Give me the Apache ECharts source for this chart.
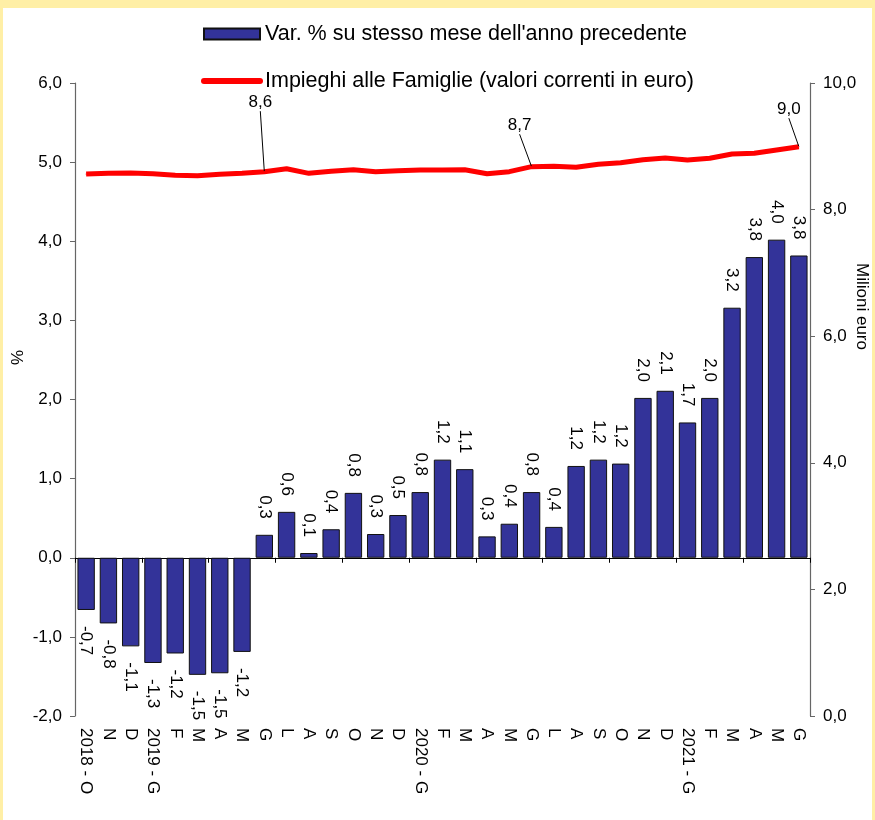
<!DOCTYPE html>
<html>
<head>
<meta charset="utf-8">
<script src="https://cdn.jsdelivr.net/npm/echarts@6/dist/echarts.min.js"></script>
<style>
html,body{margin:0;padding:0;background:#FFEFA6;}
#chart{width:875px;height:820px;}
</style>
</head>
<body>
<div id="chart"></div>
<script>
const categories = ['2018 - O','N','D','2019 - G','F','M','A','M','G','L','A','S','O','N','D',
  '2020 - G','F','M','A','M','G','L','A','S','O','N','D','2021 - G','F','M','A','M','G'];
const varPct = [-0.66,-0.83,-1.12,-1.33,-1.21,-1.48,-1.46,-1.19,0.29,0.58,0.06,0.36,0.82,0.30,0.54,
  0.83,1.24,1.12,0.27,0.43,0.83,0.39,1.16,1.24,1.19,2.02,2.11,1.71,2.02,3.16,3.80,4.02,3.82];
const impieghi = [8.562,8.573,8.578,8.567,8.542,8.536,8.558,8.573,8.599,8.646,8.573,8.605,8.630,8.599,8.615,
  8.626,8.626,8.630,8.567,8.599,8.678,8.684,8.668,8.716,8.741,8.788,8.815,8.784,8.810,8.878,8.889,8.942,8.994];
const labelledPoints = [8, 20, 32];
const leftTicks = {min: -2, max: 6, interval: 1};
const rightTicks = {min: 0, max: 10, interval: 2};
const seriesNames = ["Var. % su stesso mese dell'anno precedente", "Impieghi alle Famiglie (valori correnti in euro)"];

const FONT = 'Liberation Sans, Arial, sans-serif';
const fmt = v => Number(v).toFixed(1).replace('.', ',');

const labelOffsets = {8: [-4, -55], 20: [-12, -27], 32: [-10, -23]};

const barData = varPct.map(v => ({
  value: v,
  label: v >= 0
    ? {position: 'top', align: 'right', verticalAlign: 'middle'}
    : {position: 'bottom', align: 'left', verticalAlign: 'middle'}
}));
const lineData = impieghi.map((v, i) => labelledPoints.includes(i)
  ? {value: v, label: {show: true}, labelLine: {show: true}}
  : {value: v});

const chart = echarts.init(document.getElementById('chart'), null, {renderer: 'canvas'});
chart.setOption({
  backgroundColor: '#FFEFA6',
  textStyle: {fontFamily: FONT, color: '#000'},
  animation: false,
  graphic: [{
    type: 'rect', z: -100, silent: true,
    shape: {x: 3, y: 8, width: 869, height: 812},
    style: {fill: '#ffffff'}
  }],
  legend: {
    orient: 'vertical',
    left: 196,
    top: 18,
    itemWidth: 56,
    itemHeight: 11,
    itemGap: 25,
    textStyle: {fontSize: 21.5, fontFamily: FONT, color: '#000'},
    data: [
      {name: seriesNames[0], icon: 'rect'},
      {name: seriesNames[1], itemStyle: {opacity: 0}, lineStyle: {width: 6, cap: 'round'}}
    ]
  },
  grid: {left: 75, right: 65, top: 83, bottom: 104, containLabel: false, outerBoundsMode: 'none'},
  xAxis: [{
    type: 'category',
    data: categories,
    position: 'bottom',
    axisLine: {show: false, onZero: false},
    axisTick: {show: false},
    axisLabel: {rotate: -90, margin: 12, fontSize: 17, fontFamily: FONT, color: '#000', interval: 0}
  }, {
    type: 'category',
    data: categories,
    position: 'bottom',
    axisLine: {show: true, onZero: true, onZeroAxisIndex: 0, lineStyle: {color: '#000', width: 1.2}},
    axisTick: {show: true, length: 5, lineStyle: {color: '#000'}},
    axisLabel: {show: false}
  }],
  yAxis: [{
    type: 'value',
    min: leftTicks.min, max: leftTicks.max, interval: leftTicks.interval,
    position: 'left',
    name: '%',
    nameLocation: 'middle',
    nameRotate: 90,
    nameGap: 48,
    nameMoveOverlap: false,
    nameTextStyle: {fontSize: 17, fontFamily: FONT, color: '#000', padding: [0, 0, 0, 84]},
    axisLine: {show: true, lineStyle: {color: '#666', width: 1.2}},
    axisTick: {show: true, length: 5, lineStyle: {color: '#666'}},
    splitLine: {show: false},
    axisLabel: {formatter: fmt, fontSize: 17, margin: 13, color: '#000', fontFamily: FONT}
  }, {
    type: 'value',
    min: rightTicks.min, max: rightTicks.max, interval: rightTicks.interval,
    position: 'right',
    name: 'Milioni euro',
    nameLocation: 'middle',
    nameRotate: -90,
    nameGap: 43,
    nameMoveOverlap: false,
    nameTextStyle: {fontSize: 17, fontFamily: FONT, color: '#000', padding: [0, 186, 0, 0]},
    axisLine: {show: true, lineStyle: {color: '#666', width: 1.2}},
    axisTick: {show: true, length: 5, lineStyle: {color: '#666'}},
    splitLine: {show: false},
    axisLabel: {formatter: fmt, fontSize: 17, margin: 13, color: '#000', fontFamily: FONT}
  }],
  series: [{
    name: seriesNames[0],
    type: 'bar',
    xAxisIndex: 0,
    yAxisIndex: 0,
    data: barData,
    barCategoryGap: '22%',
    itemStyle: {color: '#333399', borderColor: '#111', borderWidth: 1},
    label: {
      show: true,
      rotate: -90,
      distance: 16,
      fontSize: 17,
      fontFamily: FONT,
      color: '#000',
      formatter: p => fmt(p.value)
    },
    z: 2
  }, {
    name: seriesNames[1],
    type: 'line',
    xAxisIndex: 0,
    yAxisIndex: 1,
    data: lineData,
    symbol: 'circle',
    symbolSize: 1,
    showSymbol: true,
    itemStyle: {color: '#ff0000'},
    lineStyle: {color: '#ff0000', width: 5},
    label: {
      show: false,
      position: 'top',
      fontSize: 17,
      fontFamily: FONT,
      color: '#000',
      formatter: p => fmt(p.value)
    },
    labelLine: {show: true, lineStyle: {color: '#000', width: 1}},
    labelLayout: p => {
      const o = labelOffsets[p.dataIndex];
      return o ? {dx: o[0], dy: o[1]} : {};
    },
    z: 3
  }]
});
</script>
</body>
</html>
